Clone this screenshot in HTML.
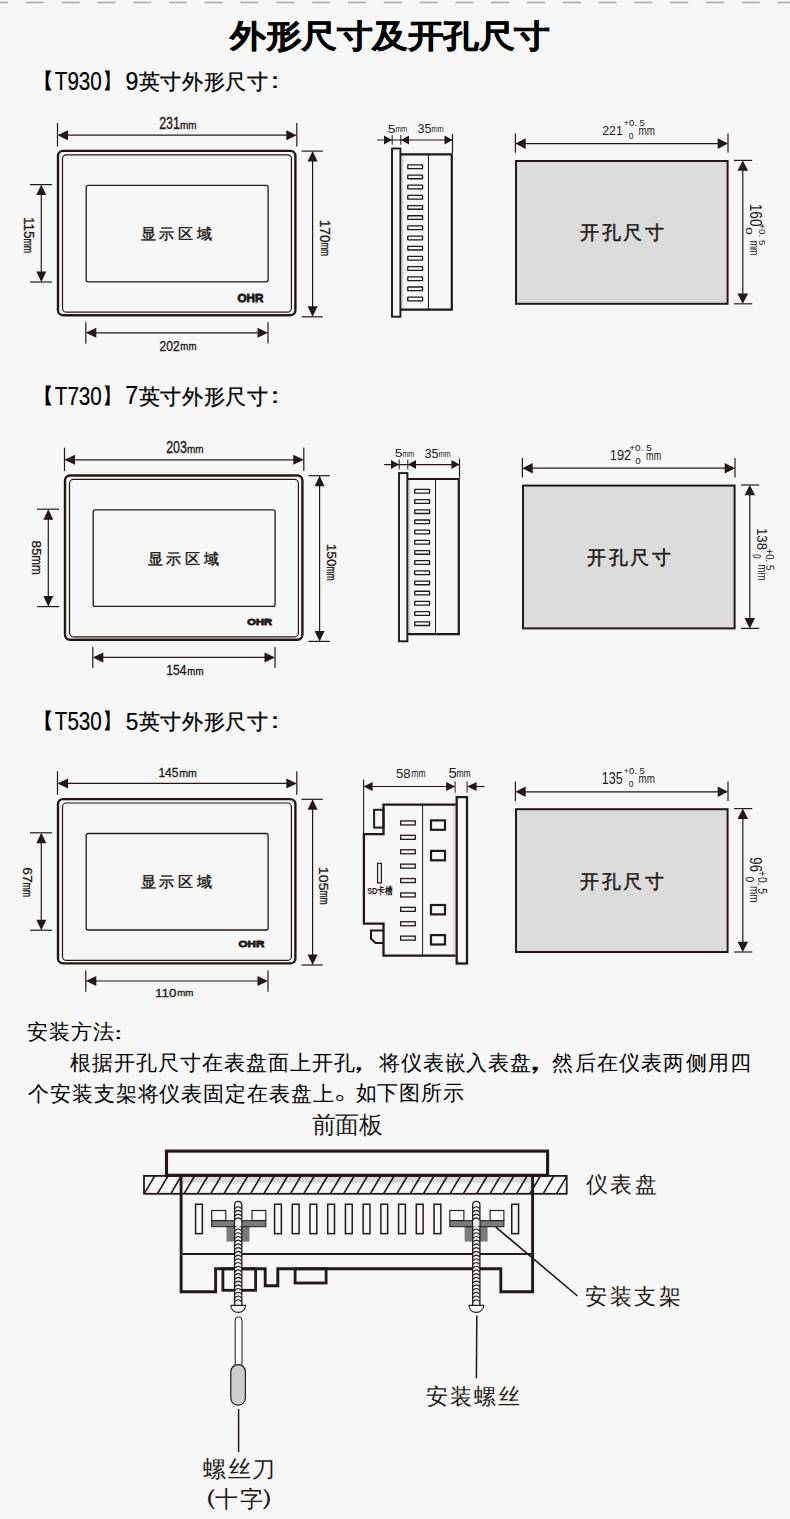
<!DOCTYPE html>
<html><head><meta charset="utf-8"><style>
html,body{margin:0;padding:0;background:#f7f7f7;}
svg{display:block;}
</style></head><body>
<svg width="790" height="1519" viewBox="0 0 790 1519">
<rect width="790" height="1519" fill="#f7f7f7"/>
<line x1="0" y1="2.5" x2="790" y2="2.5" stroke="#a8a8a8" stroke-width="1.4" stroke-dasharray="18 17.8" stroke-dashoffset="10"/>
<text transform="matrix(0.35840,0,0,0.32000,230.107,46.870)" style="font-family:'Liberation Sans',sans-serif;font-weight:bold;font-size:100px;letter-spacing:-1.011px" fill="#000" stroke="#000" stroke-width="1.48" stroke-linejoin="round" xml:space="preserve">外形尺寸及开孔尺寸</text>
<text transform="matrix(0.23797,0,0,0.21368,30.742,87.518)" style="font-family:'Liberation Sans',sans-serif;font-weight:normal;font-size:100px;letter-spacing:0.000px" fill="#000" xml:space="preserve">【</text>
<text transform="matrix(0.20638,0,0,0.25414,54.783,89.544)" style="font-family:'Liberation Sans',sans-serif;font-weight:normal;font-size:100px;letter-spacing:0.000px" fill="#000" stroke="#000" stroke-width="0.87" stroke-linejoin="round" xml:space="preserve">T930</text>
<text transform="matrix(0.20523,0,0,0.21368,102.257,87.518)" style="font-family:'Liberation Sans',sans-serif;font-weight:normal;font-size:100px;letter-spacing:0.000px" fill="#000" xml:space="preserve">】</text>
<text transform="matrix(0.23169,0,0,0.25414,125.383,89.544)" style="font-family:'Liberation Sans',sans-serif;font-weight:normal;font-size:100px;letter-spacing:0.000px" fill="#000" stroke="#000" stroke-width="0.82" stroke-linejoin="round" xml:space="preserve">9</text>
<text transform="matrix(0.21000,0,0,0.21000,138.800,88.820)" style="font-family:'Liberation Sans',sans-serif;font-weight:normal;font-size:100px;letter-spacing:2.768px" fill="#000" stroke="#000" stroke-width="1.43" stroke-linejoin="round" xml:space="preserve">英寸外形尺寸</text>
<text transform="matrix(0.29799,0,0,0.22828,260.312,88.035)" style="font-family:'Liberation Sans',sans-serif;font-weight:normal;font-size:100px;letter-spacing:0.000px" fill="#000" xml:space="preserve">：</text>
<text transform="matrix(0.23797,0,0,0.21368,30.742,402.518)" style="font-family:'Liberation Sans',sans-serif;font-weight:normal;font-size:100px;letter-spacing:0.000px" fill="#000" xml:space="preserve">【</text>
<text transform="matrix(0.20638,0,0,0.25414,54.783,404.544)" style="font-family:'Liberation Sans',sans-serif;font-weight:normal;font-size:100px;letter-spacing:0.000px" fill="#000" stroke="#000" stroke-width="0.87" stroke-linejoin="round" xml:space="preserve">T730</text>
<text transform="matrix(0.20523,0,0,0.21368,102.257,402.518)" style="font-family:'Liberation Sans',sans-serif;font-weight:normal;font-size:100px;letter-spacing:0.000px" fill="#000" xml:space="preserve">】</text>
<text transform="matrix(0.23362,0,0,0.25061,125.356,404.058)" style="font-family:'Liberation Sans',sans-serif;font-weight:normal;font-size:100px;letter-spacing:0.000px" fill="#000" stroke="#000" stroke-width="0.83" stroke-linejoin="round" xml:space="preserve">7</text>
<text transform="matrix(0.21000,0,0,0.21000,138.800,403.820)" style="font-family:'Liberation Sans',sans-serif;font-weight:normal;font-size:100px;letter-spacing:2.768px" fill="#000" stroke="#000" stroke-width="1.43" stroke-linejoin="round" xml:space="preserve">英寸外形尺寸</text>
<text transform="matrix(0.29799,0,0,0.22828,260.312,403.035)" style="font-family:'Liberation Sans',sans-serif;font-weight:normal;font-size:100px;letter-spacing:0.000px" fill="#000" xml:space="preserve">：</text>
<text transform="matrix(0.23797,0,0,0.21368,30.742,727.518)" style="font-family:'Liberation Sans',sans-serif;font-weight:normal;font-size:100px;letter-spacing:0.000px" fill="#000" xml:space="preserve">【</text>
<text transform="matrix(0.20638,0,0,0.25414,54.783,729.544)" style="font-family:'Liberation Sans',sans-serif;font-weight:normal;font-size:100px;letter-spacing:0.000px" fill="#000" stroke="#000" stroke-width="0.87" stroke-linejoin="round" xml:space="preserve">T530</text>
<text transform="matrix(0.20523,0,0,0.21368,102.257,727.518)" style="font-family:'Liberation Sans',sans-serif;font-weight:normal;font-size:100px;letter-spacing:0.000px" fill="#000" xml:space="preserve">】</text>
<text transform="matrix(0.22676,0,0,0.24345,125.673,729.560)" style="font-family:'Liberation Sans',sans-serif;font-weight:normal;font-size:100px;letter-spacing:0.000px" fill="#000" stroke="#000" stroke-width="0.85" stroke-linejoin="round" xml:space="preserve">5</text>
<text transform="matrix(0.21000,0,0,0.21000,138.800,728.820)" style="font-family:'Liberation Sans',sans-serif;font-weight:normal;font-size:100px;letter-spacing:2.768px" fill="#000" stroke="#000" stroke-width="1.43" stroke-linejoin="round" xml:space="preserve">英寸外形尺寸</text>
<text transform="matrix(0.29799,0,0,0.22828,260.312,728.035)" style="font-family:'Liberation Sans',sans-serif;font-weight:normal;font-size:100px;letter-spacing:0.000px" fill="#000" xml:space="preserve">：</text>
<g transform="translate(0,0)">
<line x1="57.50" y1="123.00" x2="57.50" y2="146.50" stroke="#231815" stroke-width="1.2" stroke-linecap="butt"/>
<line x1="296.80" y1="123.00" x2="296.80" y2="146.50" stroke="#231815" stroke-width="1.2" stroke-linecap="butt"/>
<line x1="59.50" y1="135.20" x2="294.80" y2="135.20" stroke="#231815" stroke-width="1.2" stroke-linecap="butt"/>
<polygon points="57.50,135.20 68.00,130.20 68.00,140.20" fill="#231815"/>
<polygon points="296.80,135.20 286.30,130.20 286.30,140.20" fill="#231815"/>
<rect x="58.00" y="150.90" width="237.40" height="164.30" rx="5" fill="none" stroke="#231815" stroke-width="2.4"/>
<rect x="62.50" y="154.80" width="228.90" height="157.40" rx="4" fill="none" stroke="#231815" stroke-width="1.2"/>
<rect x="86.20" y="185.30" width="181.90" height="96.50" rx="2" fill="none" stroke="#231815" stroke-width="1.3"/>
<line x1="30.00" y1="184.60" x2="52.00" y2="184.60" stroke="#231815" stroke-width="1.2" stroke-linecap="butt"/>
<line x1="30.00" y1="282.00" x2="52.00" y2="282.00" stroke="#231815" stroke-width="1.2" stroke-linecap="butt"/>
<line x1="41.30" y1="186.60" x2="41.30" y2="280.00" stroke="#231815" stroke-width="1.2" stroke-linecap="butt"/>
<polygon points="41.30,184.60 36.30,195.10 46.30,195.10" fill="#231815"/>
<polygon points="41.30,282.00 36.30,271.50 46.30,271.50" fill="#231815"/>
<line x1="301.50" y1="151.10" x2="322.80" y2="151.10" stroke="#231815" stroke-width="1.2" stroke-linecap="butt"/>
<line x1="301.50" y1="316.80" x2="322.80" y2="316.80" stroke="#231815" stroke-width="1.2" stroke-linecap="butt"/>
<line x1="312.60" y1="153.10" x2="312.60" y2="314.80" stroke="#231815" stroke-width="1.2" stroke-linecap="butt"/>
<polygon points="312.60,151.10 307.60,161.60 317.60,161.60" fill="#231815"/>
<polygon points="312.60,316.80 307.60,306.30 317.60,306.30" fill="#231815"/>
<line x1="85.80" y1="322.30" x2="85.80" y2="343.50" stroke="#231815" stroke-width="1.2" stroke-linecap="butt"/>
<line x1="268.00" y1="322.30" x2="268.00" y2="343.50" stroke="#231815" stroke-width="1.2" stroke-linecap="butt"/>
<line x1="87.80" y1="332.80" x2="266.00" y2="332.80" stroke="#231815" stroke-width="1.2" stroke-linecap="butt"/>
<polygon points="85.80,332.80 96.30,327.80 96.30,337.80" fill="#231815"/>
<polygon points="268.00,332.80 257.50,327.80 257.50,337.80" fill="#231815"/>
</g>
<text transform="matrix(0.12392,0,0,0.15572,159.153,128.636)" style="font-family:'Liberation Sans',sans-serif;font-weight:normal;font-size:100px;letter-spacing:0.000px" fill="#231815" stroke="#231815" stroke-width="2.16" stroke-linejoin="round" xml:space="preserve">231</text>
<text transform="matrix(0.09951,0,0,0.11311,180.078,128.690)" style="font-family:'Liberation Sans',sans-serif;font-weight:normal;font-size:100px;letter-spacing:0.000px" fill="#231815" stroke="#231815" stroke-width="2.83" stroke-linejoin="round" xml:space="preserve">mm</text>
<text transform="matrix(0,0.13605,-0.14646,0,24.146,216.912)" style="font-family:'Liberation Sans',sans-serif;font-weight:normal;font-size:100px;letter-spacing:0.000px" fill="#231815" stroke="#231815" stroke-width="2.13" stroke-linejoin="round" xml:space="preserve">115</text>
<text transform="matrix(0,0.08787,-0.13137,0,24.000,238.385)" style="font-family:'Liberation Sans',sans-serif;font-weight:normal;font-size:100px;letter-spacing:0.000px" fill="#231815" stroke="#231815" stroke-width="2.79" stroke-linejoin="round" xml:space="preserve">mm</text>
<text transform="matrix(0,0.13694,-0.14951,0,320.334,219.679)" style="font-family:'Liberation Sans',sans-serif;font-weight:normal;font-size:100px;letter-spacing:0.000px" fill="#231815" stroke="#231815" stroke-width="2.10" stroke-linejoin="round" xml:space="preserve">170</text>
<text transform="matrix(0,0.08136,-0.12766,0,321.106,242.430)" style="font-family:'Liberation Sans',sans-serif;font-weight:normal;font-size:100px;letter-spacing:0.000px" fill="#231815" stroke="#231815" stroke-width="2.94" stroke-linejoin="round" xml:space="preserve">mm</text>
<text transform="matrix(0.12054,0,0,0.14085,159.536,350.859)" style="font-family:'Liberation Sans',sans-serif;font-weight:normal;font-size:100px;letter-spacing:0.000px" fill="#231815" stroke="#231815" stroke-width="2.30" stroke-linejoin="round" xml:space="preserve">202</text>
<text transform="matrix(0.09691,0,0,0.11311,180.322,350.108)" style="font-family:'Liberation Sans',sans-serif;font-weight:normal;font-size:100px;letter-spacing:0.000px" fill="#231815" stroke="#231815" stroke-width="2.87" stroke-linejoin="round" xml:space="preserve">mm</text>
<text transform="matrix(0.15000,0,0,0.15000,140.685,239.282)" style="font-family:'Liberation Serif',serif;font-weight:normal;font-size:100px;letter-spacing:24.188px" fill="#231815" stroke="#231815" stroke-width="3.00" stroke-linejoin="round" xml:space="preserve">显示区域</text>
<text transform="matrix(0.11694,0,0,0.11765,237.504,302.136)" style="font-family:'Liberation Sans',sans-serif;font-weight:bold;font-size:100px;letter-spacing:0.000px" fill="#231815" stroke="#231815" stroke-width="7.67" stroke-linejoin="round" xml:space="preserve">OHR</text>
<g transform="translate(0,0)">
<line x1="402.60" y1="155.40" x2="402.60" y2="308.60" stroke="#d6d6d6" stroke-width="1.4" stroke-linecap="butt"/>
<rect x="392.00" y="148.50" width="8.40" height="168.20" rx="0" fill="none" stroke="#231815" stroke-width="1.9"/>
<path d="M400.4,154.4 H451.8 V309.6 H400.4" fill="none" stroke="#231815" stroke-width="2.2" stroke-linejoin="miter"/>
<line x1="428.50" y1="154.40" x2="428.50" y2="309.60" stroke="#231815" stroke-width="1.0" stroke-linecap="butt"/>
<rect x="407.75" y="164.85" width="14.80" height="3.70" rx="0.2" fill="none" stroke="#231815" stroke-width="1.3"/>
<rect x="407.75" y="175.03" width="14.80" height="3.70" rx="0.2" fill="none" stroke="#231815" stroke-width="1.3"/>
<rect x="407.75" y="185.21" width="14.80" height="3.70" rx="0.2" fill="none" stroke="#231815" stroke-width="1.3"/>
<rect x="407.75" y="195.39" width="14.80" height="3.70" rx="0.2" fill="none" stroke="#231815" stroke-width="1.3"/>
<rect x="407.75" y="205.57" width="14.80" height="3.70" rx="0.2" fill="none" stroke="#231815" stroke-width="1.3"/>
<rect x="407.75" y="215.75" width="14.80" height="3.70" rx="0.2" fill="none" stroke="#231815" stroke-width="1.3"/>
<rect x="407.75" y="225.93" width="14.80" height="3.70" rx="0.2" fill="none" stroke="#231815" stroke-width="1.3"/>
<rect x="407.75" y="236.11" width="14.80" height="3.70" rx="0.2" fill="none" stroke="#231815" stroke-width="1.3"/>
<rect x="407.75" y="246.29" width="14.80" height="3.70" rx="0.2" fill="none" stroke="#231815" stroke-width="1.3"/>
<rect x="407.75" y="256.47" width="14.80" height="3.70" rx="0.2" fill="none" stroke="#231815" stroke-width="1.3"/>
<rect x="407.75" y="266.65" width="14.80" height="3.70" rx="0.2" fill="none" stroke="#231815" stroke-width="1.3"/>
<rect x="407.75" y="276.83" width="14.80" height="3.70" rx="0.2" fill="none" stroke="#231815" stroke-width="1.3"/>
<rect x="407.75" y="287.01" width="14.80" height="3.70" rx="0.2" fill="none" stroke="#231815" stroke-width="1.3"/>
<rect x="407.75" y="297.19" width="14.80" height="3.70" rx="0.2" fill="none" stroke="#231815" stroke-width="1.3"/>
<line x1="377.20" y1="140.00" x2="452.50" y2="140.00" stroke="#231815" stroke-width="1.2" stroke-linecap="butt"/>
<polygon points="392.00,140.00 384.00,135.50 384.00,144.50" fill="#231815"/>
<polygon points="401.00,140.00 409.00,135.50 409.00,144.50" fill="#231815"/>
<polygon points="452.50,140.00 444.50,135.50 444.50,144.50" fill="#231815"/>
<line x1="392.20" y1="135.00" x2="392.20" y2="144.80" stroke="#231815" stroke-width="1.0" stroke-linecap="butt"/>
<line x1="400.80" y1="135.00" x2="400.80" y2="144.80" stroke="#231815" stroke-width="1.0" stroke-linecap="butt"/>
<line x1="452.50" y1="134.00" x2="452.50" y2="153.00" stroke="#231815" stroke-width="1.2" stroke-linecap="butt"/>
</g>
<text transform="matrix(0.14190,0,0,0.10346,387.819,132.943)" style="font-family:'Liberation Sans',sans-serif;font-weight:normal;font-size:100px;letter-spacing:0.000px" fill="#231815" xml:space="preserve">5</text>
<text transform="matrix(0.07143,0,0,0.09259,395.433,132.000)" style="font-family:'Liberation Sans',sans-serif;font-weight:normal;font-size:100px;letter-spacing:0.000px" fill="#231815" xml:space="preserve">mm</text>
<text transform="matrix(0.12621,0,0,0.12089,417.495,132.868)" style="font-family:'Liberation Sans',sans-serif;font-weight:normal;font-size:100px;letter-spacing:0.000px" fill="#231815" xml:space="preserve">35</text>
<text transform="matrix(0.07343,0,0,0.09259,431.486,132.000)" style="font-family:'Liberation Sans',sans-serif;font-weight:normal;font-size:100px;letter-spacing:0.000px" fill="#231815" xml:space="preserve">mm</text>
<g transform="translate(0,0)">
<rect x="516.00" y="161.00" width="211.60" height="142.80" rx="0" fill="#dcdcdc" stroke="#231815" stroke-width="2.0"/>
<line x1="515.40" y1="133.40" x2="515.40" y2="152.80" stroke="#231815" stroke-width="1.2" stroke-linecap="butt"/>
<line x1="728.00" y1="133.40" x2="728.00" y2="152.80" stroke="#231815" stroke-width="1.2" stroke-linecap="butt"/>
<line x1="517.40" y1="143.60" x2="726.00" y2="143.60" stroke="#231815" stroke-width="1.2" stroke-linecap="butt"/>
<polygon points="515.40,143.60 525.70,138.30 525.70,148.90" fill="#231815"/>
<polygon points="728.00,143.60 717.70,138.30 717.70,148.90" fill="#231815"/>
<line x1="734.00" y1="160.40" x2="752.20" y2="160.40" stroke="#231815" stroke-width="1.2" stroke-linecap="butt"/>
<line x1="734.00" y1="303.80" x2="752.20" y2="303.80" stroke="#231815" stroke-width="1.2" stroke-linecap="butt"/>
<line x1="742.80" y1="162.40" x2="742.80" y2="301.80" stroke="#231815" stroke-width="1.2" stroke-linecap="butt"/>
<polygon points="742.80,160.40 737.50,170.70 748.10,170.70" fill="#231815"/>
<polygon points="742.80,303.80 737.50,293.50 748.10,293.50" fill="#231815"/>
</g>
<text transform="matrix(0.12361,0,0,0.13407,602.182,134.692)" style="font-family:'Liberation Sans',sans-serif;font-weight:normal;font-size:100px;letter-spacing:0.000px" fill="#231815" xml:space="preserve">221</text>
<text transform="matrix(0.09503,0,0,0.08990,623.436,125.910)" style="font-family:'Liberation Sans',sans-serif;font-weight:normal;font-size:100px;letter-spacing:0.000px" fill="#231815" xml:space="preserve">+0. 5</text>
<text transform="matrix(0.08650,0,0,0.09335,628.654,139.221)" style="font-family:'Liberation Sans',sans-serif;font-weight:normal;font-size:100px;letter-spacing:0.000px" fill="#231815" xml:space="preserve">0</text>
<text transform="matrix(0.09842,0,0,0.13461,638.482,135.000)" style="font-family:'Liberation Sans',sans-serif;font-weight:normal;font-size:100px;letter-spacing:0.000px" fill="#231815" xml:space="preserve">mm</text>
<text transform="matrix(0,0.13689,-0.16404,0,749.795,203.686)" style="font-family:'Liberation Sans',sans-serif;font-weight:normal;font-size:100px;letter-spacing:0.000px" fill="#231815" xml:space="preserve">160</text>
<text transform="matrix(0,0.13610,-0.09817,0,745.861,227.239)" style="font-family:'Liberation Sans',sans-serif;font-weight:normal;font-size:100px;letter-spacing:0.000px" fill="#231815" xml:space="preserve">0</text>
<text transform="matrix(0,0.09823,-0.09817,0,758.770,223.290)" style="font-family:'Liberation Sans',sans-serif;font-weight:normal;font-size:100px;letter-spacing:0.000px" fill="#231815" xml:space="preserve">+0. 5</text>
<text transform="matrix(0,0.08765,-0.13431,0,750.000,240.776)" style="font-family:'Liberation Sans',sans-serif;font-weight:normal;font-size:100px;letter-spacing:0.000px" fill="#231815" xml:space="preserve">mm</text>
<text transform="matrix(0.19000,0,0,0.19000,580.008,239.352)" style="font-family:'Liberation Serif',serif;font-weight:normal;font-size:100px;letter-spacing:13.333px" fill="#231815" stroke="#231815" stroke-width="2.63" stroke-linejoin="round" xml:space="preserve">开孔尺寸</text>
<g transform="translate(7,324.6)">
<line x1="57.50" y1="123.00" x2="57.50" y2="146.50" stroke="#231815" stroke-width="1.2" stroke-linecap="butt"/>
<line x1="296.80" y1="123.00" x2="296.80" y2="146.50" stroke="#231815" stroke-width="1.2" stroke-linecap="butt"/>
<line x1="59.50" y1="135.20" x2="294.80" y2="135.20" stroke="#231815" stroke-width="1.2" stroke-linecap="butt"/>
<polygon points="57.50,135.20 68.00,130.20 68.00,140.20" fill="#231815"/>
<polygon points="296.80,135.20 286.30,130.20 286.30,140.20" fill="#231815"/>
<rect x="58.00" y="150.90" width="237.40" height="164.30" rx="5" fill="none" stroke="#231815" stroke-width="2.4"/>
<rect x="62.50" y="154.80" width="228.90" height="157.40" rx="4" fill="none" stroke="#231815" stroke-width="1.2"/>
<rect x="86.20" y="185.30" width="181.90" height="96.50" rx="2" fill="none" stroke="#231815" stroke-width="1.3"/>
<line x1="30.00" y1="184.60" x2="52.00" y2="184.60" stroke="#231815" stroke-width="1.2" stroke-linecap="butt"/>
<line x1="30.00" y1="282.00" x2="52.00" y2="282.00" stroke="#231815" stroke-width="1.2" stroke-linecap="butt"/>
<line x1="41.30" y1="186.60" x2="41.30" y2="280.00" stroke="#231815" stroke-width="1.2" stroke-linecap="butt"/>
<polygon points="41.30,184.60 36.30,195.10 46.30,195.10" fill="#231815"/>
<polygon points="41.30,282.00 36.30,271.50 46.30,271.50" fill="#231815"/>
<line x1="301.50" y1="151.10" x2="322.80" y2="151.10" stroke="#231815" stroke-width="1.2" stroke-linecap="butt"/>
<line x1="301.50" y1="316.80" x2="322.80" y2="316.80" stroke="#231815" stroke-width="1.2" stroke-linecap="butt"/>
<line x1="312.60" y1="153.10" x2="312.60" y2="314.80" stroke="#231815" stroke-width="1.2" stroke-linecap="butt"/>
<polygon points="312.60,151.10 307.60,161.60 317.60,161.60" fill="#231815"/>
<polygon points="312.60,316.80 307.60,306.30 317.60,306.30" fill="#231815"/>
<line x1="85.80" y1="322.30" x2="85.80" y2="343.50" stroke="#231815" stroke-width="1.2" stroke-linecap="butt"/>
<line x1="268.00" y1="322.30" x2="268.00" y2="343.50" stroke="#231815" stroke-width="1.2" stroke-linecap="butt"/>
<line x1="87.80" y1="332.80" x2="266.00" y2="332.80" stroke="#231815" stroke-width="1.2" stroke-linecap="butt"/>
<polygon points="85.80,332.80 96.30,327.80 96.30,337.80" fill="#231815"/>
<polygon points="268.00,332.80 257.50,327.80 257.50,337.80" fill="#231815"/>
</g>
<text transform="matrix(0.12392,0,0,0.15572,166.138,453.159)" style="font-family:'Liberation Sans',sans-serif;font-weight:normal;font-size:100px;letter-spacing:0.000px" fill="#231815" stroke="#231815" stroke-width="2.16" stroke-linejoin="round" xml:space="preserve">203</text>
<text transform="matrix(0.09951,0,0,0.11311,187.078,453.230)" style="font-family:'Liberation Sans',sans-serif;font-weight:normal;font-size:100px;letter-spacing:0.000px" fill="#231815" stroke="#231815" stroke-width="2.83" stroke-linejoin="round" xml:space="preserve">mm</text>
<text transform="matrix(0,0.13592,-0.12906,0,32.129,540.456)" style="font-family:'Liberation Sans',sans-serif;font-weight:normal;font-size:100px;letter-spacing:0.000px" fill="#231815" stroke="#231815" stroke-width="2.27" stroke-linejoin="round" xml:space="preserve">85</text>
<text transform="matrix(0,0.11765,-0.14545,0,32.000,555.176)" style="font-family:'Liberation Sans',sans-serif;font-weight:normal;font-size:100px;letter-spacing:0.000px" fill="#231815" stroke="#231815" stroke-width="2.29" stroke-linejoin="round" xml:space="preserve">mm</text>
<text transform="matrix(0,0.13689,-0.12906,0,327.010,543.686)" style="font-family:'Liberation Sans',sans-serif;font-weight:normal;font-size:100px;letter-spacing:0.000px" fill="#231815" stroke="#231815" stroke-width="2.26" stroke-linejoin="round" xml:space="preserve">150</text>
<text transform="matrix(0,0.08497,-0.12766,0,327.045,566.405)" style="font-family:'Liberation Sans',sans-serif;font-weight:normal;font-size:100px;letter-spacing:0.000px" fill="#231815" stroke="#231815" stroke-width="2.88" stroke-linejoin="round" xml:space="preserve">mm</text>
<text transform="matrix(0.12101,0,0,0.14286,166.193,675.457)" style="font-family:'Liberation Sans',sans-serif;font-weight:normal;font-size:100px;letter-spacing:0.000px" fill="#231815" stroke="#231815" stroke-width="2.28" stroke-linejoin="round" xml:space="preserve">154</text>
<text transform="matrix(0.09691,0,0,0.11311,187.322,674.653)" style="font-family:'Liberation Sans',sans-serif;font-weight:normal;font-size:100px;letter-spacing:0.000px" fill="#231815" stroke="#231815" stroke-width="2.87" stroke-linejoin="round" xml:space="preserve">mm</text>
<text transform="matrix(0.15000,0,0,0.15000,147.685,563.894)" style="font-family:'Liberation Serif',serif;font-weight:normal;font-size:100px;letter-spacing:24.188px" fill="#231815" stroke="#231815" stroke-width="3.00" stroke-linejoin="round" xml:space="preserve">显示区域</text>
<text transform="matrix(0.11162,0,0,0.09705,247.288,624.924)" style="font-family:'Liberation Sans',sans-serif;font-weight:bold;font-size:100px;letter-spacing:0.000px" fill="#231815" stroke="#231815" stroke-width="8.65" stroke-linejoin="round" xml:space="preserve">OHR</text>
<g transform="translate(7,324.6)">
<line x1="402.60" y1="155.40" x2="402.60" y2="308.60" stroke="#d6d6d6" stroke-width="1.4" stroke-linecap="butt"/>
<rect x="392.00" y="148.50" width="8.40" height="168.20" rx="0" fill="none" stroke="#231815" stroke-width="1.9"/>
<path d="M400.4,154.4 H451.8 V309.6 H400.4" fill="none" stroke="#231815" stroke-width="2.2" stroke-linejoin="miter"/>
<line x1="428.50" y1="154.40" x2="428.50" y2="309.60" stroke="#231815" stroke-width="1.0" stroke-linecap="butt"/>
<rect x="407.75" y="164.85" width="14.80" height="3.70" rx="0.2" fill="none" stroke="#231815" stroke-width="1.3"/>
<rect x="407.75" y="175.03" width="14.80" height="3.70" rx="0.2" fill="none" stroke="#231815" stroke-width="1.3"/>
<rect x="407.75" y="185.21" width="14.80" height="3.70" rx="0.2" fill="none" stroke="#231815" stroke-width="1.3"/>
<rect x="407.75" y="195.39" width="14.80" height="3.70" rx="0.2" fill="none" stroke="#231815" stroke-width="1.3"/>
<rect x="407.75" y="205.57" width="14.80" height="3.70" rx="0.2" fill="none" stroke="#231815" stroke-width="1.3"/>
<rect x="407.75" y="215.75" width="14.80" height="3.70" rx="0.2" fill="none" stroke="#231815" stroke-width="1.3"/>
<rect x="407.75" y="225.93" width="14.80" height="3.70" rx="0.2" fill="none" stroke="#231815" stroke-width="1.3"/>
<rect x="407.75" y="236.11" width="14.80" height="3.70" rx="0.2" fill="none" stroke="#231815" stroke-width="1.3"/>
<rect x="407.75" y="246.29" width="14.80" height="3.70" rx="0.2" fill="none" stroke="#231815" stroke-width="1.3"/>
<rect x="407.75" y="256.47" width="14.80" height="3.70" rx="0.2" fill="none" stroke="#231815" stroke-width="1.3"/>
<rect x="407.75" y="266.65" width="14.80" height="3.70" rx="0.2" fill="none" stroke="#231815" stroke-width="1.3"/>
<rect x="407.75" y="276.83" width="14.80" height="3.70" rx="0.2" fill="none" stroke="#231815" stroke-width="1.3"/>
<rect x="407.75" y="287.01" width="14.80" height="3.70" rx="0.2" fill="none" stroke="#231815" stroke-width="1.3"/>
<rect x="407.75" y="297.19" width="14.80" height="3.70" rx="0.2" fill="none" stroke="#231815" stroke-width="1.3"/>
<line x1="377.20" y1="140.00" x2="452.50" y2="140.00" stroke="#231815" stroke-width="1.2" stroke-linecap="butt"/>
<polygon points="392.00,140.00 384.00,135.50 384.00,144.50" fill="#231815"/>
<polygon points="401.00,140.00 409.00,135.50 409.00,144.50" fill="#231815"/>
<polygon points="452.50,140.00 444.50,135.50 444.50,144.50" fill="#231815"/>
<line x1="392.20" y1="135.00" x2="392.20" y2="144.80" stroke="#231815" stroke-width="1.0" stroke-linecap="butt"/>
<line x1="400.80" y1="135.00" x2="400.80" y2="144.80" stroke="#231815" stroke-width="1.0" stroke-linecap="butt"/>
<line x1="452.50" y1="134.00" x2="452.50" y2="153.00" stroke="#231815" stroke-width="1.2" stroke-linecap="butt"/>
</g>
<text transform="matrix(0.14190,0,0,0.10346,394.819,457.488)" style="font-family:'Liberation Sans',sans-serif;font-weight:normal;font-size:100px;letter-spacing:0.000px" fill="#231815" xml:space="preserve">5</text>
<text transform="matrix(0.07143,0,0,0.09259,402.433,457.320)" style="font-family:'Liberation Sans',sans-serif;font-weight:normal;font-size:100px;letter-spacing:0.000px" fill="#231815" xml:space="preserve">mm</text>
<text transform="matrix(0.12621,0,0,0.12089,424.495,457.555)" style="font-family:'Liberation Sans',sans-serif;font-weight:normal;font-size:100px;letter-spacing:0.000px" fill="#231815" xml:space="preserve">35</text>
<text transform="matrix(0.07343,0,0,0.09259,438.486,456.600)" style="font-family:'Liberation Sans',sans-serif;font-weight:normal;font-size:100px;letter-spacing:0.000px" fill="#231815" xml:space="preserve">mm</text>
<g transform="translate(7,324.6)">
<rect x="516.00" y="161.00" width="211.60" height="142.80" rx="0" fill="#dcdcdc" stroke="#231815" stroke-width="2.0"/>
<line x1="515.40" y1="133.40" x2="515.40" y2="152.80" stroke="#231815" stroke-width="1.2" stroke-linecap="butt"/>
<line x1="728.00" y1="133.40" x2="728.00" y2="152.80" stroke="#231815" stroke-width="1.2" stroke-linecap="butt"/>
<line x1="517.40" y1="143.60" x2="726.00" y2="143.60" stroke="#231815" stroke-width="1.2" stroke-linecap="butt"/>
<polygon points="515.40,143.60 525.70,138.30 525.70,148.90" fill="#231815"/>
<polygon points="728.00,143.60 717.70,138.30 717.70,148.90" fill="#231815"/>
<line x1="734.00" y1="160.40" x2="752.20" y2="160.40" stroke="#231815" stroke-width="1.2" stroke-linecap="butt"/>
<line x1="734.00" y1="303.80" x2="752.20" y2="303.80" stroke="#231815" stroke-width="1.2" stroke-linecap="butt"/>
<line x1="742.80" y1="162.40" x2="742.80" y2="301.80" stroke="#231815" stroke-width="1.2" stroke-linecap="butt"/>
<polygon points="742.80,160.40 737.50,170.70 748.10,170.70" fill="#231815"/>
<polygon points="742.80,303.80 737.50,293.50 748.10,293.50" fill="#231815"/>
</g>
<text transform="matrix(0.12905,0,0,0.14951,609.740,459.850)" style="font-family:'Liberation Sans',sans-serif;font-weight:normal;font-size:100px;letter-spacing:0.000px" fill="#231815" xml:space="preserve">192</text>
<text transform="matrix(0.10028,0,0,0.09335,629.238,450.653)" style="font-family:'Liberation Sans',sans-serif;font-weight:normal;font-size:100px;letter-spacing:0.000px" fill="#231815" xml:space="preserve">+0. 5</text>
<text transform="matrix(0.09776,0,0,0.09216,635.340,463.649)" style="font-family:'Liberation Sans',sans-serif;font-weight:normal;font-size:100px;letter-spacing:0.000px" fill="#231815" xml:space="preserve">0</text>
<text transform="matrix(0.09086,0,0,0.12766,646.101,460.000)" style="font-family:'Liberation Sans',sans-serif;font-weight:normal;font-size:100px;letter-spacing:0.000px" fill="#231815" xml:space="preserve">mm</text>
<text transform="matrix(0,0.13281,-0.14679,0,756.768,527.937)" style="font-family:'Liberation Sans',sans-serif;font-weight:normal;font-size:100px;letter-spacing:0.000px" fill="#231815" xml:space="preserve">138</text>
<text transform="matrix(0,0.07559,-0.10449,0,753.104,554.341)" style="font-family:'Liberation Sans',sans-serif;font-weight:normal;font-size:100px;letter-spacing:0.000px" fill="#231815" xml:space="preserve">0</text>
<text transform="matrix(0,0.09551,-0.10449,0,766.104,548.703)" style="font-family:'Liberation Sans',sans-serif;font-weight:normal;font-size:100px;letter-spacing:0.000px" fill="#231815" xml:space="preserve">+0. 5</text>
<text transform="matrix(0,0.09804,-0.11891,0,757.579,564.314)" style="font-family:'Liberation Sans',sans-serif;font-weight:normal;font-size:100px;letter-spacing:0.000px" fill="#231815" xml:space="preserve">mm</text>
<text transform="matrix(0.19000,0,0,0.19000,587.008,563.968)" style="font-family:'Liberation Serif',serif;font-weight:normal;font-size:100px;letter-spacing:13.333px" fill="#231815" stroke="#231815" stroke-width="2.63" stroke-linejoin="round" xml:space="preserve">开孔尺寸</text>
<g transform="translate(0,648.2)">
<line x1="57.50" y1="123.00" x2="57.50" y2="146.50" stroke="#231815" stroke-width="1.2" stroke-linecap="butt"/>
<line x1="296.80" y1="123.00" x2="296.80" y2="146.50" stroke="#231815" stroke-width="1.2" stroke-linecap="butt"/>
<line x1="59.50" y1="135.20" x2="294.80" y2="135.20" stroke="#231815" stroke-width="1.2" stroke-linecap="butt"/>
<polygon points="57.50,135.20 68.00,130.20 68.00,140.20" fill="#231815"/>
<polygon points="296.80,135.20 286.30,130.20 286.30,140.20" fill="#231815"/>
<rect x="58.00" y="150.90" width="237.40" height="164.30" rx="5" fill="none" stroke="#231815" stroke-width="2.4"/>
<rect x="62.50" y="154.80" width="228.90" height="157.40" rx="4" fill="none" stroke="#231815" stroke-width="1.2"/>
<rect x="86.20" y="185.30" width="181.90" height="96.50" rx="2" fill="none" stroke="#231815" stroke-width="1.3"/>
<line x1="30.00" y1="184.60" x2="52.00" y2="184.60" stroke="#231815" stroke-width="1.2" stroke-linecap="butt"/>
<line x1="30.00" y1="282.00" x2="52.00" y2="282.00" stroke="#231815" stroke-width="1.2" stroke-linecap="butt"/>
<line x1="41.30" y1="186.60" x2="41.30" y2="280.00" stroke="#231815" stroke-width="1.2" stroke-linecap="butt"/>
<polygon points="41.30,184.60 36.30,195.10 46.30,195.10" fill="#231815"/>
<polygon points="41.30,282.00 36.30,271.50 46.30,271.50" fill="#231815"/>
<line x1="301.50" y1="151.10" x2="322.80" y2="151.10" stroke="#231815" stroke-width="1.2" stroke-linecap="butt"/>
<line x1="301.50" y1="316.80" x2="322.80" y2="316.80" stroke="#231815" stroke-width="1.2" stroke-linecap="butt"/>
<line x1="312.60" y1="153.10" x2="312.60" y2="314.80" stroke="#231815" stroke-width="1.2" stroke-linecap="butt"/>
<polygon points="312.60,151.10 307.60,161.60 317.60,161.60" fill="#231815"/>
<polygon points="312.60,316.80 307.60,306.30 317.60,306.30" fill="#231815"/>
<line x1="85.80" y1="322.30" x2="85.80" y2="343.50" stroke="#231815" stroke-width="1.2" stroke-linecap="butt"/>
<line x1="268.00" y1="322.30" x2="268.00" y2="343.50" stroke="#231815" stroke-width="1.2" stroke-linecap="butt"/>
<line x1="87.80" y1="332.80" x2="266.00" y2="332.80" stroke="#231815" stroke-width="1.2" stroke-linecap="butt"/>
<polygon points="85.80,332.80 96.30,327.80 96.30,337.80" fill="#231815"/>
<polygon points="268.00,332.80 257.50,327.80 257.50,337.80" fill="#231815"/>
</g>
<text transform="matrix(0.12018,0,0,0.13519,158.411,776.865)" style="font-family:'Liberation Sans',sans-serif;font-weight:normal;font-size:100px;letter-spacing:0.000px" fill="#231815" stroke="#231815" stroke-width="2.35" stroke-linejoin="round" xml:space="preserve">145</text>
<text transform="matrix(0.10609,0,0,0.11111,179.231,777.000)" style="font-family:'Liberation Sans',sans-serif;font-weight:normal;font-size:100px;letter-spacing:0.000px" fill="#231815" stroke="#231815" stroke-width="2.76" stroke-linejoin="round" xml:space="preserve">mm</text>
<text transform="matrix(0,0.13861,-0.12676,0,23.327,867.307)" style="font-family:'Liberation Sans',sans-serif;font-weight:normal;font-size:100px;letter-spacing:0.000px" fill="#231815" stroke="#231815" stroke-width="2.26" stroke-linejoin="round" xml:space="preserve">67</text>
<text transform="matrix(0,0.08787,-0.12766,0,23.149,882.385)" style="font-family:'Liberation Sans',sans-serif;font-weight:normal;font-size:100px;letter-spacing:0.000px" fill="#231815" stroke="#231815" stroke-width="2.83" stroke-linejoin="round" xml:space="preserve">mm</text>
<text transform="matrix(0,0.14194,-0.11854,0,319.335,866.865)" style="font-family:'Liberation Sans',sans-serif;font-weight:normal;font-size:100px;letter-spacing:0.000px" fill="#231815" stroke="#231815" stroke-width="2.31" stroke-linejoin="round" xml:space="preserve">105</text>
<text transform="matrix(0,0.08532,-0.12766,0,320.106,890.403)" style="font-family:'Liberation Sans',sans-serif;font-weight:normal;font-size:100px;letter-spacing:0.000px" fill="#231815" stroke="#231815" stroke-width="2.87" stroke-linejoin="round" xml:space="preserve">mm</text>
<text transform="matrix(0.13494,0,0,0.11385,155.085,997.304)" style="font-family:'Liberation Sans',sans-serif;font-weight:normal;font-size:100px;letter-spacing:0.000px" fill="#231815" stroke="#231815" stroke-width="2.42" stroke-linejoin="round" xml:space="preserve">110</text>
<text transform="matrix(0.09774,0,0,0.08202,177.239,996.429)" style="font-family:'Liberation Sans',sans-serif;font-weight:normal;font-size:100px;letter-spacing:0.000px" fill="#231815" stroke="#231815" stroke-width="3.35" stroke-linejoin="round" xml:space="preserve">mm</text>
<text transform="matrix(0.15000,0,0,0.15000,140.685,887.476)" style="font-family:'Liberation Serif',serif;font-weight:normal;font-size:100px;letter-spacing:24.188px" fill="#231815" stroke="#231815" stroke-width="3.00" stroke-linejoin="round" xml:space="preserve">显示区域</text>
<text transform="matrix(0.11608,0,0,0.09089,238.499,947.200)" style="font-family:'Liberation Sans',sans-serif;font-weight:bold;font-size:100px;letter-spacing:0.000px" fill="#231815" stroke="#231815" stroke-width="8.76" stroke-linejoin="round" xml:space="preserve">OHR</text>
<line x1="454.00" y1="805.60" x2="454.00" y2="954.60" stroke="#d6d6d6" stroke-width="1.6" stroke-linecap="butt"/>
<rect x="456.70" y="797.10" width="10.30" height="166.40" rx="0" fill="none" stroke="#231815" stroke-width="2.3"/>
<path d="M455.7,804.7 H383.5 V834.2 H363.9 V923.7 H383.5 V955.6 H455.7" fill="none" stroke="#231815" stroke-width="2.3" stroke-linejoin="miter"/>
<rect x="374.10" y="809.80" width="9.40" height="17.80" rx="0" fill="none" stroke="#231815" stroke-width="2.0"/>
<path d="M383.5,930.4 H371.0 V938.7 L375.6,943.0 H383.5" fill="none" stroke="#231815" stroke-width="2.0" stroke-linejoin="miter"/>
<line x1="422.60" y1="804.70" x2="422.60" y2="955.60" stroke="#231815" stroke-width="1.0" stroke-linecap="butt"/>
<rect x="400.65" y="820.95" width="14.60" height="4.00" rx="0" fill="none" stroke="#231815" stroke-width="1.3"/>
<rect x="400.65" y="835.35" width="14.60" height="4.00" rx="0" fill="none" stroke="#231815" stroke-width="1.3"/>
<rect x="400.65" y="849.75" width="14.60" height="4.00" rx="0" fill="none" stroke="#231815" stroke-width="1.3"/>
<rect x="400.65" y="864.15" width="14.60" height="4.00" rx="0" fill="none" stroke="#231815" stroke-width="1.3"/>
<rect x="400.65" y="878.55" width="14.60" height="4.00" rx="0" fill="none" stroke="#231815" stroke-width="1.3"/>
<rect x="400.65" y="892.95" width="14.60" height="4.00" rx="0" fill="none" stroke="#231815" stroke-width="1.3"/>
<rect x="400.65" y="907.35" width="14.60" height="4.00" rx="0" fill="none" stroke="#231815" stroke-width="1.3"/>
<rect x="400.65" y="921.75" width="14.60" height="4.00" rx="0" fill="none" stroke="#231815" stroke-width="1.3"/>
<rect x="400.65" y="936.15" width="14.60" height="4.00" rx="0" fill="none" stroke="#231815" stroke-width="1.3"/>
<rect x="431.00" y="820.40" width="14.00" height="9.40" rx="0" fill="none" stroke="#231815" stroke-width="2.2"/>
<rect x="431.00" y="850.90" width="14.00" height="9.40" rx="0" fill="none" stroke="#231815" stroke-width="2.2"/>
<rect x="431.00" y="905.00" width="14.00" height="9.40" rx="0" fill="none" stroke="#231815" stroke-width="2.2"/>
<rect x="431.00" y="935.10" width="14.00" height="9.40" rx="0" fill="none" stroke="#231815" stroke-width="2.2"/>
<rect x="377.60" y="863.40" width="3.80" height="19.50" rx="0" fill="none" stroke="#231815" stroke-width="1.2"/>
<text transform="matrix(0.07380,0,0,0.09724,367.141,894.040)" style="font-family:'Liberation Sans',sans-serif;font-weight:bold;font-size:100px;letter-spacing:0.000px" fill="#231815" xml:space="preserve">SD卡槽</text>
<line x1="363.60" y1="779.40" x2="363.60" y2="834.20" stroke="#231815" stroke-width="1.1" stroke-linecap="butt"/>
<line x1="365.00" y1="786.50" x2="453.50" y2="786.50" stroke="#231815" stroke-width="1.2" stroke-linecap="butt"/>
<polygon points="363.60,786.50 372.60,782.00 372.60,791.00" fill="#231815"/>
<polygon points="455.10,786.50 446.10,782.00 446.10,791.00" fill="#231815"/>
<line x1="455.10" y1="781.30" x2="455.10" y2="792.70" stroke="#231815" stroke-width="1.0" stroke-linecap="butt"/>
<line x1="467.10" y1="781.30" x2="467.10" y2="792.70" stroke="#231815" stroke-width="1.0" stroke-linecap="butt"/>
<polygon points="467.10,786.50 476.60,782.00 476.60,791.00" fill="#231815"/>
<line x1="470.00" y1="786.50" x2="484.50" y2="786.50" stroke="#231815" stroke-width="1.2" stroke-linecap="butt"/>
<text transform="matrix(0.13154,0,0,0.13545,395.997,777.882)" style="font-family:'Liberation Sans',sans-serif;font-weight:normal;font-size:100px;letter-spacing:0.000px" fill="#231815" xml:space="preserve">58</text>
<text transform="matrix(0.08679,0,0,0.11111,411.346,777.000)" style="font-family:'Liberation Sans',sans-serif;font-weight:normal;font-size:100px;letter-spacing:0.000px" fill="#231815" xml:space="preserve">mm</text>
<text transform="matrix(0.14894,0,0,0.13738,448.404,777.880)" style="font-family:'Liberation Sans',sans-serif;font-weight:normal;font-size:100px;letter-spacing:0.000px" fill="#231815" xml:space="preserve">5</text>
<text transform="matrix(0.08653,0,0,0.11111,456.394,777.000)" style="font-family:'Liberation Sans',sans-serif;font-weight:normal;font-size:100px;letter-spacing:0.000px" fill="#231815" xml:space="preserve">mm</text>
<g transform="translate(0,648.2)">
<rect x="516.00" y="161.00" width="211.60" height="142.80" rx="0" fill="#dcdcdc" stroke="#231815" stroke-width="2.0"/>
<line x1="515.40" y1="133.40" x2="515.40" y2="152.80" stroke="#231815" stroke-width="1.2" stroke-linecap="butt"/>
<line x1="728.00" y1="133.40" x2="728.00" y2="152.80" stroke="#231815" stroke-width="1.2" stroke-linecap="butt"/>
<line x1="517.40" y1="143.60" x2="726.00" y2="143.60" stroke="#231815" stroke-width="1.2" stroke-linecap="butt"/>
<polygon points="515.40,143.60 525.70,138.30 525.70,148.90" fill="#231815"/>
<polygon points="728.00,143.60 717.70,138.30 717.70,148.90" fill="#231815"/>
<line x1="734.00" y1="160.40" x2="752.20" y2="160.40" stroke="#231815" stroke-width="1.2" stroke-linecap="butt"/>
<line x1="734.00" y1="303.80" x2="752.20" y2="303.80" stroke="#231815" stroke-width="1.2" stroke-linecap="butt"/>
<line x1="742.80" y1="162.40" x2="742.80" y2="301.80" stroke="#231815" stroke-width="1.2" stroke-linecap="butt"/>
<polygon points="742.80,160.40 737.50,170.70 748.10,170.70" fill="#231815"/>
<polygon points="742.80,303.80 737.50,293.50 748.10,293.50" fill="#231815"/>
</g>
<text transform="matrix(0.12521,0,0,0.15861,601.793,783.673)" style="font-family:'Liberation Sans',sans-serif;font-weight:normal;font-size:100px;letter-spacing:0.000px" fill="#231815" xml:space="preserve">135</text>
<text transform="matrix(0.09503,0,0,0.08990,623.436,773.986)" style="font-family:'Liberation Sans',sans-serif;font-weight:normal;font-size:100px;letter-spacing:0.000px" fill="#231815" xml:space="preserve">+0. 5</text>
<text transform="matrix(0.08650,0,0,0.09335,628.654,787.318)" style="font-family:'Liberation Sans',sans-serif;font-weight:normal;font-size:100px;letter-spacing:0.000px" fill="#231815" xml:space="preserve">0</text>
<text transform="matrix(0.09842,0,0,0.13461,638.482,783.148)" style="font-family:'Liberation Sans',sans-serif;font-weight:normal;font-size:100px;letter-spacing:0.000px" fill="#231815" xml:space="preserve">mm</text>
<text transform="matrix(0,0.13215,-0.15861,0,749.749,857.339)" style="font-family:'Liberation Sans',sans-serif;font-weight:normal;font-size:100px;letter-spacing:0.000px" fill="#231815" xml:space="preserve">96</text>
<text transform="matrix(0,0.10417,-0.11564,0,745.675,876.583)" style="font-family:'Liberation Sans',sans-serif;font-weight:normal;font-size:100px;letter-spacing:0.000px" fill="#231815" xml:space="preserve">0</text>
<text transform="matrix(0,0.10291,-0.12089,0,758.132,870.871)" style="font-family:'Liberation Sans',sans-serif;font-weight:normal;font-size:100px;letter-spacing:0.000px" fill="#231815" xml:space="preserve">+0. 5</text>
<text transform="matrix(0,0.09951,-0.12709,0,749.648,886.078)" style="font-family:'Liberation Sans',sans-serif;font-weight:normal;font-size:100px;letter-spacing:0.000px" fill="#231815" xml:space="preserve">mm</text>
<text transform="matrix(0.19000,0,0,0.19000,580.008,887.544)" style="font-family:'Liberation Serif',serif;font-weight:normal;font-size:100px;letter-spacing:13.333px" fill="#231815" stroke="#231815" stroke-width="2.63" stroke-linejoin="round" xml:space="preserve">开孔尺寸</text>
<text transform="matrix(0.21000,0,0,0.21000,26.767,1038.850)" style="font-family:'Liberation Serif',serif;font-weight:normal;font-size:100px;letter-spacing:4.773px" fill="#000" xml:space="preserve">安装方法</text>
<text transform="matrix(0.27879,0,0,0.16609,104.386,1039.471)" style="font-family:'Liberation Serif',serif;font-weight:normal;font-size:100px;letter-spacing:0.000px" fill="#000" xml:space="preserve">：</text>
<text transform="matrix(0.21000,0,0,0.21000,70.198,1069.820)" style="font-family:'Liberation Serif',serif;font-weight:normal;font-size:100px;letter-spacing:4.607px" fill="#000" xml:space="preserve">根据开孔尺寸在表盘面上开孔</text>
<text transform="matrix(0.37744,0,0,0.24404,340.195,1069.826)" style="font-family:'Liberation Serif',serif;font-weight:normal;font-size:100px;letter-spacing:0.000px" fill="#000" xml:space="preserve">，</text>
<text transform="matrix(0.21000,0,0,0.21000,378.594,1070.030)" style="font-family:'Liberation Serif',serif;font-weight:normal;font-size:100px;letter-spacing:4.619px" fill="#000" xml:space="preserve">将仪表嵌入表盘</text>
<text transform="matrix(0.46328,0,0,0.28472,512.101,1070.297)" style="font-family:'Liberation Serif',serif;font-weight:normal;font-size:100px;letter-spacing:0.000px" fill="#000" xml:space="preserve">，</text>
<text transform="matrix(0.21000,0,0,0.21000,552.375,1070.030)" style="font-family:'Liberation Serif',serif;font-weight:normal;font-size:100px;letter-spacing:5.724px" fill="#000" xml:space="preserve">然后在仪表两侧用四</text>
<text transform="matrix(0.21000,0,0,0.21000,27.977,1100.829)" style="font-family:'Liberation Serif',serif;font-weight:normal;font-size:100px;letter-spacing:4.327px" fill="#000" xml:space="preserve">个安装支架将仪表固定在表盘上</text>
<text transform="matrix(0.31845,0,0,0.27975,332.810,1098.444)" style="font-family:'Liberation Serif',serif;font-weight:normal;font-size:100px;letter-spacing:0.000px" fill="#000" xml:space="preserve">。</text>
<text transform="matrix(0.21000,0,0,0.21000,355.577,1100.218)" style="font-family:'Liberation Serif',serif;font-weight:normal;font-size:100px;letter-spacing:4.359px" fill="#000" xml:space="preserve">如下图所示</text>
<text transform="matrix(0.24000,0,0,0.24000,311.520,1133.048)" style="font-family:'Liberation Serif',serif;font-weight:normal;font-size:100px;letter-spacing:-0.381px" fill="#231815" xml:space="preserve">前面板</text>
<text transform="matrix(0.22000,0,0,0.22000,585.590,1192.230)" style="font-family:'Liberation Serif',serif;font-weight:normal;font-size:100px;letter-spacing:11.675px" fill="#231815" xml:space="preserve">仪表盘</text>
<text transform="matrix(0.22000,0,0,0.22000,585.325,1304.289)" style="font-family:'Liberation Serif',serif;font-weight:normal;font-size:100px;letter-spacing:11.157px" fill="#231815" xml:space="preserve">安装支架</text>
<text transform="matrix(0.22000,0,0,0.22000,425.925,1404.093)" style="font-family:'Liberation Serif',serif;font-weight:normal;font-size:100px;letter-spacing:9.585px" fill="#231815" xml:space="preserve">安装螺丝</text>
<text transform="matrix(0.23000,0,0,0.23000,202.733,1476.855)" style="font-family:'Liberation Serif',serif;font-weight:normal;font-size:100px;letter-spacing:7.998px" fill="#231815" xml:space="preserve">螺丝刀</text>
<text transform="matrix(0.33469,0,0,0.22655,185.799,1505.329)" style="font-family:'Liberation Serif',serif;font-weight:normal;font-size:100px;letter-spacing:0.000px" fill="#231815" xml:space="preserve">（</text>
<text transform="matrix(0.23000,0,0,0.23000,214.743,1506.942)" style="font-family:'Liberation Serif',serif;font-weight:normal;font-size:100px;letter-spacing:8.549px" fill="#231815" xml:space="preserve">十字</text>
<text transform="matrix(0.33346,0,0,0.22655,257.772,1505.329)" style="font-family:'Liberation Serif',serif;font-weight:normal;font-size:100px;letter-spacing:0.000px" fill="#231815" xml:space="preserve">）</text>
<clipPath id="bc"><rect x="144" y="1175.5" width="422.7" height="18.3"/></clipPath>
<rect x="182.50" y="1177.00" width="349.00" height="5.80" rx="0" fill="#d9d9d9" stroke="none" stroke-width="0"/>
<path d="M130.40,1194.5 L141.70,1175.5 M143.70,1194.5 L155.00,1175.5 M157.00,1194.5 L168.30,1175.5 M170.30,1194.5 L181.60,1175.5 M183.60,1194.5 L194.90,1175.5 M196.90,1194.5 L208.20,1175.5 M210.20,1194.5 L221.50,1175.5 M223.50,1194.5 L234.80,1175.5 M236.80,1194.5 L248.10,1175.5 M250.10,1194.5 L261.40,1175.5 M263.40,1194.5 L274.70,1175.5 M276.70,1194.5 L288.00,1175.5 M290.00,1194.5 L301.30,1175.5 M303.30,1194.5 L314.60,1175.5 M316.60,1194.5 L327.90,1175.5 M329.90,1194.5 L341.20,1175.5 M343.20,1194.5 L354.50,1175.5 M356.50,1194.5 L367.80,1175.5 M369.80,1194.5 L381.10,1175.5 M383.10,1194.5 L394.40,1175.5 M396.40,1194.5 L407.70,1175.5 M409.70,1194.5 L421.00,1175.5 M423.00,1194.5 L434.30,1175.5 M436.30,1194.5 L447.60,1175.5 M449.60,1194.5 L460.90,1175.5 M462.90,1194.5 L474.20,1175.5 M476.20,1194.5 L487.50,1175.5 M489.50,1194.5 L500.80,1175.5 M502.80,1194.5 L514.10,1175.5 M516.10,1194.5 L527.40,1175.5 M529.40,1194.5 L540.70,1175.5 M542.70,1194.5 L554.00,1175.5 M556.00,1194.5 L567.30,1175.5 M569.30,1194.5 L580.60,1175.5 M582.60,1194.5 L593.90,1175.5" stroke="#231815" stroke-width="1.6" clip-path="url(#bc)"/>
<rect x="144.00" y="1175.90" width="422.70" height="17.90" rx="0" fill="none" stroke="#231815" stroke-width="1.8"/>
<rect x="166.50" y="1151.10" width="381.10" height="24.20" rx="0" fill="none" stroke="#231815" stroke-width="3.1"/>
<path d="M181.1,1176 V1291.8 H215.6 V1268.8 H265.2 V1285.8 H277.8 V1268.8 H500.8 V1291.8 H532.6 V1176" fill="none" stroke="#231815" stroke-width="2.9" stroke-linejoin="miter"/>
<line x1="182.50" y1="1254.00" x2="531.20" y2="1254.00" stroke="#231815" stroke-width="2.0" stroke-linecap="butt"/>
<rect x="222.90" y="1268.80" width="32.70" height="21.50" rx="0" fill="none" stroke="#231815" stroke-width="2.8"/>
<rect x="295.10" y="1268.80" width="31.00" height="14.20" rx="0" fill="none" stroke="#231815" stroke-width="2.8"/>
<rect x="195.55" y="1204.25" width="6.80" height="29.40" rx="0" fill="none" stroke="#231815" stroke-width="1.5"/>
<rect x="274.55" y="1204.25" width="6.80" height="29.40" rx="0" fill="none" stroke="#231815" stroke-width="1.5"/>
<rect x="292.27" y="1204.25" width="6.80" height="29.40" rx="0" fill="none" stroke="#231815" stroke-width="1.5"/>
<rect x="309.99" y="1204.25" width="6.80" height="29.40" rx="0" fill="none" stroke="#231815" stroke-width="1.5"/>
<rect x="327.71" y="1204.25" width="6.80" height="29.40" rx="0" fill="none" stroke="#231815" stroke-width="1.5"/>
<rect x="345.43" y="1204.25" width="6.80" height="29.40" rx="0" fill="none" stroke="#231815" stroke-width="1.5"/>
<rect x="363.15" y="1204.25" width="6.80" height="29.40" rx="0" fill="none" stroke="#231815" stroke-width="1.5"/>
<rect x="380.87" y="1204.25" width="6.80" height="29.40" rx="0" fill="none" stroke="#231815" stroke-width="1.5"/>
<rect x="398.59" y="1204.25" width="6.80" height="29.40" rx="0" fill="none" stroke="#231815" stroke-width="1.5"/>
<rect x="416.31" y="1204.25" width="6.80" height="29.40" rx="0" fill="none" stroke="#231815" stroke-width="1.5"/>
<rect x="434.03" y="1204.25" width="6.80" height="29.40" rx="0" fill="none" stroke="#231815" stroke-width="1.5"/>
<rect x="511.75" y="1204.25" width="6.80" height="29.40" rx="0" fill="none" stroke="#231815" stroke-width="1.5"/>
<rect x="211.70" y="1210.50" width="14.10" height="10.00" rx="0" fill="#fafafa" stroke="#231815" stroke-width="1.1"/>
<rect x="252.00" y="1210.50" width="13.80" height="10.00" rx="0" fill="#fafafa" stroke="#231815" stroke-width="1.1"/>
<rect x="226.50" y="1226.50" width="23.00" height="15.10" rx="0" fill="#7b7b7b" stroke="none" stroke-width="0"/>
<rect x="211.70" y="1220.70" width="54.10" height="6.00" rx="0" fill="#7b7b7b" stroke="#231815" stroke-width="1.0"/>
<path d="M234.60,1305.4 V1204.80 A3.60,3.5 0 0 1 241.80,1204.80 V1305.4" fill="#fafafa" stroke="#231815" stroke-width="1.3"/>
<path d="M234.90,1208.50 Q238.20,1204.90 241.50,1208.50 M234.90,1212.22 Q238.20,1208.62 241.50,1212.22 M234.90,1215.94 Q238.20,1212.34 241.50,1215.94 M234.90,1219.66 Q238.20,1216.06 241.50,1219.66 M234.90,1223.38 Q238.20,1219.78 241.50,1223.38 M234.90,1227.10 Q238.20,1223.50 241.50,1227.10 M234.90,1230.82 Q238.20,1227.22 241.50,1230.82 M234.90,1234.54 Q238.20,1230.94 241.50,1234.54 M234.90,1238.26 Q238.20,1234.66 241.50,1238.26 M234.90,1241.98 Q238.20,1238.38 241.50,1241.98 M234.90,1245.70 Q238.20,1242.10 241.50,1245.70 M234.90,1249.42 Q238.20,1245.82 241.50,1249.42 M234.90,1253.14 Q238.20,1249.54 241.50,1253.14 M234.90,1256.86 Q238.20,1253.26 241.50,1256.86 M234.90,1260.58 Q238.20,1256.98 241.50,1260.58 M234.90,1264.30 Q238.20,1260.70 241.50,1264.30 M234.90,1268.02 Q238.20,1264.42 241.50,1268.02 M234.90,1271.74 Q238.20,1268.14 241.50,1271.74 M234.90,1275.46 Q238.20,1271.86 241.50,1275.46 M234.90,1279.18 Q238.20,1275.58 241.50,1279.18 M234.90,1282.90 Q238.20,1279.30 241.50,1282.90 M234.90,1286.62 Q238.20,1283.02 241.50,1286.62 M234.90,1290.34 Q238.20,1286.74 241.50,1290.34 M234.90,1294.06 Q238.20,1290.46 241.50,1294.06 M234.90,1297.78 Q238.20,1294.18 241.50,1297.78 M234.90,1301.50 Q238.20,1297.90 241.50,1301.50" fill="none" stroke="#231815" stroke-width="1.15"/>
<rect x="235.20" y="1220.8" width="6.00" height="5.6" fill="#fafafa"/>
<path d="M230.80,1305.4 H245.60 A7.4,7 0 0 1 230.80,1305.4" fill="#fafafa" stroke="#231815" stroke-width="1.1"/>
<rect x="449.80" y="1210.50" width="14.10" height="10.00" rx="0" fill="#fafafa" stroke="#231815" stroke-width="1.1"/>
<rect x="490.10" y="1210.50" width="13.80" height="10.00" rx="0" fill="#fafafa" stroke="#231815" stroke-width="1.1"/>
<rect x="464.60" y="1226.50" width="23.00" height="15.10" rx="0" fill="#7b7b7b" stroke="none" stroke-width="0"/>
<rect x="449.80" y="1220.70" width="54.10" height="6.00" rx="0" fill="#7b7b7b" stroke="#231815" stroke-width="1.0"/>
<path d="M472.70,1305.4 V1204.80 A3.60,3.5 0 0 1 479.90,1204.80 V1305.4" fill="#fafafa" stroke="#231815" stroke-width="1.3"/>
<path d="M473.00,1208.50 Q476.30,1204.90 479.60,1208.50 M473.00,1212.22 Q476.30,1208.62 479.60,1212.22 M473.00,1215.94 Q476.30,1212.34 479.60,1215.94 M473.00,1219.66 Q476.30,1216.06 479.60,1219.66 M473.00,1223.38 Q476.30,1219.78 479.60,1223.38 M473.00,1227.10 Q476.30,1223.50 479.60,1227.10 M473.00,1230.82 Q476.30,1227.22 479.60,1230.82 M473.00,1234.54 Q476.30,1230.94 479.60,1234.54 M473.00,1238.26 Q476.30,1234.66 479.60,1238.26 M473.00,1241.98 Q476.30,1238.38 479.60,1241.98 M473.00,1245.70 Q476.30,1242.10 479.60,1245.70 M473.00,1249.42 Q476.30,1245.82 479.60,1249.42 M473.00,1253.14 Q476.30,1249.54 479.60,1253.14 M473.00,1256.86 Q476.30,1253.26 479.60,1256.86 M473.00,1260.58 Q476.30,1256.98 479.60,1260.58 M473.00,1264.30 Q476.30,1260.70 479.60,1264.30 M473.00,1268.02 Q476.30,1264.42 479.60,1268.02 M473.00,1271.74 Q476.30,1268.14 479.60,1271.74 M473.00,1275.46 Q476.30,1271.86 479.60,1275.46 M473.00,1279.18 Q476.30,1275.58 479.60,1279.18 M473.00,1282.90 Q476.30,1279.30 479.60,1282.90 M473.00,1286.62 Q476.30,1283.02 479.60,1286.62 M473.00,1290.34 Q476.30,1286.74 479.60,1290.34 M473.00,1294.06 Q476.30,1290.46 479.60,1294.06 M473.00,1297.78 Q476.30,1294.18 479.60,1297.78 M473.00,1301.50 Q476.30,1297.90 479.60,1301.50" fill="none" stroke="#231815" stroke-width="1.15"/>
<rect x="473.30" y="1220.8" width="6.00" height="5.6" fill="#fafafa"/>
<path d="M468.90,1305.4 H483.70 A7.4,7 0 0 1 468.90,1305.4" fill="#fafafa" stroke="#231815" stroke-width="1.1"/>
<line x1="495.90" y1="1227.20" x2="577.50" y2="1296.00" stroke="#231815" stroke-width="1.6" stroke-linecap="butt"/>
<line x1="476.80" y1="1315.50" x2="476.40" y2="1378.20" stroke="#231815" stroke-width="1.5" stroke-linecap="butt"/>
<line x1="238.60" y1="1409.00" x2="238.60" y2="1451.90" stroke="#231815" stroke-width="1.5" stroke-linecap="butt"/>
<path d="M235.2,1365 V1320.2 A3.4,3.4 0 0 1 242.0,1320.2 V1365" fill="#fafafa" stroke="#231815" stroke-width="1.0"/>
<rect x="230.8" y="1364.6" width="14.6" height="40.6" rx="7.3" fill="#cdcdcd" stroke="#231815" stroke-width="1.2"/>
</svg>
</body></html>
